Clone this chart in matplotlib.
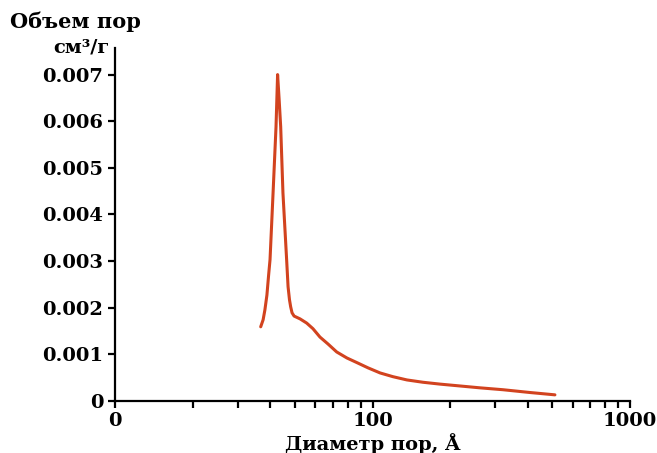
import matplotlib
matplotlib.use("Agg")
import matplotlib.pyplot as plt
from matplotlib.ticker import FixedLocator, FixedFormatter, LogLocator, NullFormatter

# pore size distribution
diameter = [36.8, 37.6, 38.2, 38.9, 39.5, 40.0, 41.1, 42.2, 42.8, 43.4, 44.0, 44.9,
            46.4, 47.0, 47.6, 48.1, 48.7, 49.6, 52.3, 55.5, 58.7, 62.5, 67.2, 72.6,
            79.6, 87.1, 96.0, 107, 120, 136, 157, 183, 219, 262, 321, 409, 511]
volume = [0.00159, 0.00174, 0.00195, 0.00227, 0.00270, 0.00303, 0.00446, 0.00588,
          0.00700, 0.00646, 0.00588, 0.00446, 0.00303, 0.00245, 0.00217, 0.00202,
          0.00189, 0.00182, 0.00176, 0.00167, 0.00155, 0.00137, 0.00122, 0.00105,
          0.00092, 0.00082, 0.00071, 0.00060, 0.00052, 0.00045, 0.00040, 0.00036,
          0.00032, 0.00028, 0.00024, 0.00018, 0.00013]

x_ticks = [10, 100, 1000]
x_labels = ["0", "100", "1000"]
y_ticks = [0, 0.001, 0.002, 0.003, 0.004, 0.005, 0.006, 0.007]
y_labels = ["0", "0.001", "0.002", "0.003", "0.004", "0.005", "0.006", "0.007"]

plt.rcParams["font.family"] = ["DejaVu Serif"]
plt.rcParams["font.weight"] = "bold"

fig = plt.figure(figsize=(6.57, 4.53), dpi=100)
ax = fig.add_axes([115 / 657, 0.115, 515 / 657, 0.779])

ax.plot(diameter, volume, color="#d2431f", lw=2.2,
        solid_capstyle="round", solid_joinstyle="round")

ax.set_xscale("log")
ax.set_xlim(10, 1000)
ax.set_ylim(0, 0.00757)

ax.xaxis.set_major_locator(FixedLocator(x_ticks))
ax.xaxis.set_major_formatter(FixedFormatter(x_labels))
ax.xaxis.set_minor_locator(LogLocator(base=10, subs=range(2, 10)))
ax.xaxis.set_minor_formatter(NullFormatter())
ax.yaxis.set_major_locator(FixedLocator(y_ticks))
ax.yaxis.set_major_formatter(FixedFormatter(y_labels))

for s in ["top", "right"]:
    ax.spines[s].set_visible(False)
for s in ["left", "bottom"]:
    ax.spines[s].set_linewidth(1.6)

ax.tick_params(axis="both", which="both", direction="out", width=1.6,
               labelsize=14, length=5)
ax.tick_params(axis="x", pad=3)

ax.set_xlabel("Диаметр пор, Å", fontsize=14, fontweight="bold", labelpad=2)

fig.text(10 / 657, 1 - 22 / 453, "Объем пор", fontsize=15, fontweight="bold",
         ha="left", va="center")
fig.text(110 / 657, 1 - 47 / 453, "см³/г", fontsize=14, fontweight="bold",
         ha="right", va="center")

fig.savefig("out.png", dpi=100)
